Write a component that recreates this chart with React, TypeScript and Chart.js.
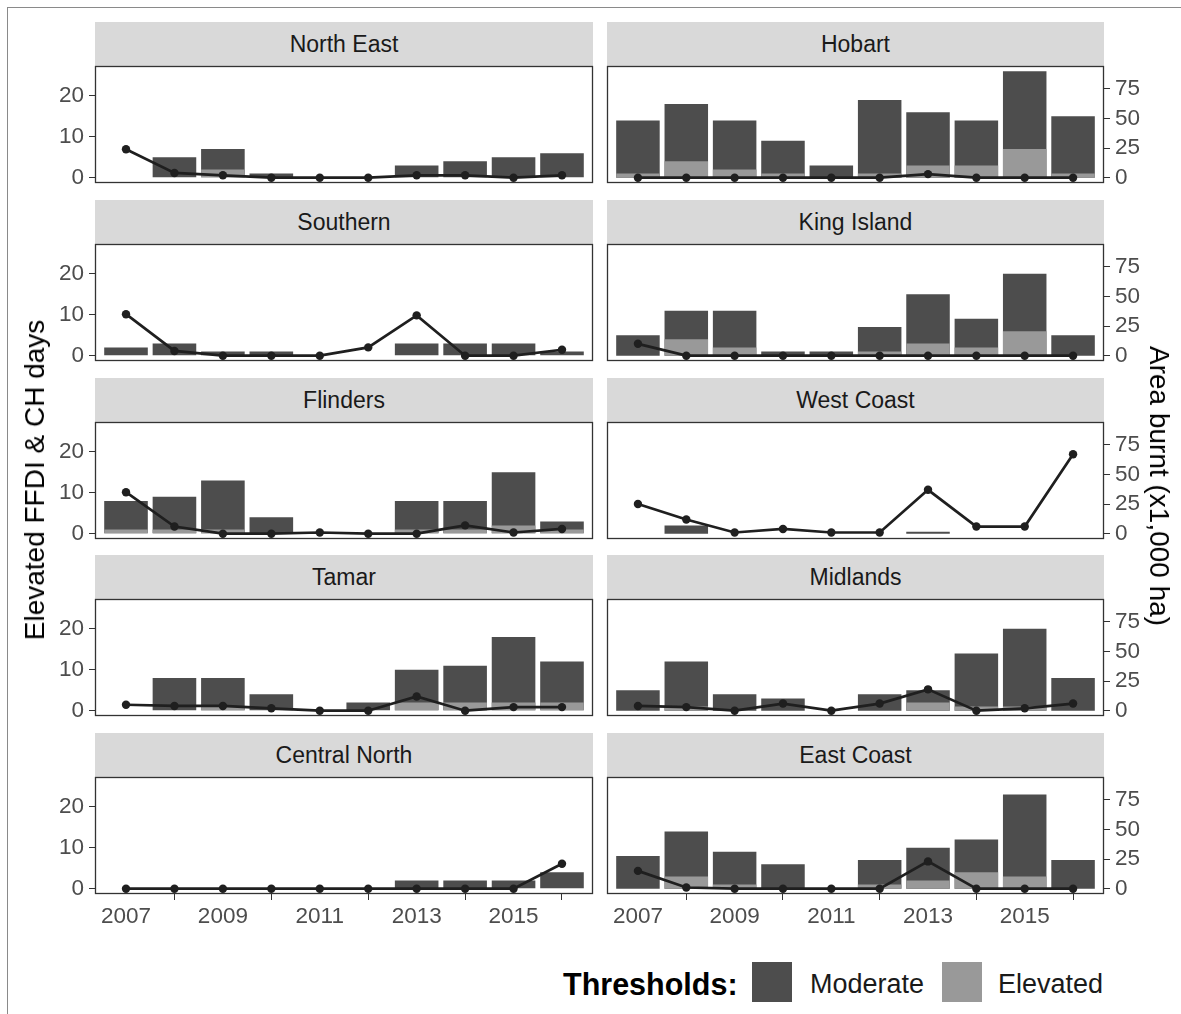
import React, { useEffect, useRef } from "react";
import { Chart, registerables } from "chart.js";
Chart.register(...registerables);

// ---------------- DATA ----------------
const years = [2007, 2008, 2009, 2010, 2011, 2012, 2013, 2014, 2015, 2016];
const xTickYears = [2007, 2009, 2011, 2013, 2015];
const daysTicks = [0, 10, 20];
const areaTicks = [0, 25, 50, 75];
const legendLabels = ["Moderate", "Elevated"];

const northEastModerate = [0, 5, 7, 1, 0, 0, 3, 4, 5, 6];
const northEastElevated = [0, 0, 2, 0, 0, 0, 0, 0, 0, 0];
const northEastArea = [24, 4, 2, 0, 0, 0, 2, 2, 0, 2];

const hobartModerate = [14, 18, 14, 9, 3, 19, 16, 14, 26, 15];
const hobartElevated = [1, 4, 2, 1, 0, 1, 3, 3, 7, 1];
const hobartArea = [0, 0, 0, 0, 0, 0, 3, 0, 0, 0];

const southernModerate = [2, 3, 1, 1, 0, 0, 3, 3, 3, 1];
const southernElevated = [0, 0, 0, 0, 0, 0, 0, 0, 0, 0];
const southernArea = [35, 4, 0, 0, 0, 7, 34, 0, 0, 5];

const kingIslandModerate = [5, 11, 11, 1, 1, 7, 15, 9, 20, 5];
const kingIslandElevated = [0, 4, 2, 0, 0, 1, 3, 2, 6, 0];
const kingIslandArea = [10, 0, 0, 0, 0, 0, 0, 0, 0, 0];

const flindersModerate = [8, 9, 13, 4, 0, 0, 8, 8, 15, 3];
const flindersElevated = [1, 1, 1, 0, 0, 0, 1, 1, 2, 1];
const flindersArea = [35, 6, 0, 0, 1, 0, 0, 7, 1, 4];

const westCoastModerate = [0, 2, 0, 0, 0, 0, 0.5, 0, 0, 0];
const westCoastElevated = [0, 0, 0, 0, 0, 0, 0, 0, 0, 0];
const westCoastArea = [25, 12, 1, 4, 1, 1, 37, 6, 6, 67];

const tamarModerate = [0, 8, 8, 4, 0, 2, 10, 11, 18, 12];
const tamarElevated = [0, 0, 1, 0, 0, 0, 2, 2, 2, 2];
const tamarArea = [5, 4, 4, 2, 0, 0, 12, 0, 3, 3];

const midlandsModerate = [5, 12, 4, 3, 0, 4, 5, 14, 20, 8];
const midlandsElevated = [0, 1, 0, 0, 0, 0, 2, 1, 1, 0];
const midlandsArea = [4, 3, 0, 6, 0, 6, 18, 0, 2, 6];

const centralNorthModerate = [0, 0, 0, 0, 0, 0, 2, 2, 2, 4];
const centralNorthElevated = [0, 0, 0, 0, 0, 0, 0, 0, 0, 0];
const centralNorthArea = [0, 0, 0, 0, 0, 0, 0, 0, 0, 21];

const eastCoastModerate = [8, 14, 9, 6, 0, 7, 10, 12, 23, 7];
const eastCoastElevated = [0, 3, 1, 0, 0, 1, 2, 4, 3, 0];
const eastCoastArea = [15, 1, 0, 0, 0, 0, 23, 0, 0, 0];

const panels = [
  { name: "North East", moderate: northEastModerate, elevated: northEastElevated, area: northEastArea },
  { name: "Hobart", moderate: hobartModerate, elevated: hobartElevated, area: hobartArea },
  { name: "Southern", moderate: southernModerate, elevated: southernElevated, area: southernArea },
  { name: "King Island", moderate: kingIslandModerate, elevated: kingIslandElevated, area: kingIslandArea },
  { name: "Flinders", moderate: flindersModerate, elevated: flindersElevated, area: flindersArea },
  { name: "West Coast", moderate: westCoastModerate, elevated: westCoastElevated, area: westCoastArea },
  { name: "Tamar", moderate: tamarModerate, elevated: tamarElevated, area: tamarArea },
  { name: "Midlands", moderate: midlandsModerate, elevated: midlandsElevated, area: midlandsArea },
  { name: "Central North", moderate: centralNorthModerate, elevated: centralNorthElevated, area: centralNorthArea },
  { name: "East Coast", moderate: eastCoastModerate, elevated: eastCoastElevated, area: eastCoastArea },
];

// ---------------- STYLE / LAYOUT ----------------
const FONT = "'Liberation Sans', Arial, Helvetica, sans-serif";
const MOD_COLOR = "#4d4d4d";
const ELEV_COLOR = "#999999";
const LINE_COLOR = "#1f1f1f";
const TICK_COLOR = "#4d4d4d";
const X_MIN = 2006.36;
const X_MAX = 2016.64;
const Y_MIN = -1.3;
const Y_MAX = 27.3;
const AREA_RATIO = 3.45;

const COL_LEFT = [95, 607];
const COL_RIGHT = [593, 1104];
const BODY_H = 117;
const STRIP_H = 44;
const PAD = 20;
const bodyTop = (row: number) => Math.round(66 + row * 177.75);

const framePlugin = {
  id: "frame",
  afterDraw(chart: any) {
    const { ctx, chartArea } = chart;
    const { left, top, right, bottom } = chartArea;
    ctx.save();
    ctx.strokeStyle = "#333333";
    ctx.lineWidth = 1.3;
    ctx.strokeRect(left + 0.5, top + 0.5, right - left - 1, bottom - top - 1);
    ctx.restore();
  },
};

function Panel({ spec, row, col }: any) {
  const ref = useRef<HTMLCanvasElement>(null);
  const isLeft = col === 0;
  const isBottom = row === 4;
  const canvasLeft = isLeft ? 40 : COL_LEFT[1] - 7;
  const canvasRight = isLeft ? COL_RIGHT[0] + 7 : 1175;
  const width = canvasRight - canvasLeft;
  const top = bodyTop(row) - PAD;
  const height = PAD + BODY_H + (isBottom ? 42 : PAD);

  useEffect(() => {
    const tickFont = { family: FONT, size: 22.5 };
    const chart = new Chart(ref.current as HTMLCanvasElement, {
      type: "bar",
      data: {
        datasets: [
          {
            type: "line",
            data: years.map((x, i) => ({ x, y: spec.area[i] })),
            yAxisID: "y1",
            borderColor: LINE_COLOR,
            backgroundColor: LINE_COLOR,
            borderWidth: 2.7,
            pointRadius: 4.2,
            pointBorderWidth: 0,
            pointBackgroundColor: LINE_COLOR,
            order: 0,
            clip: false,
          } as any,
          {
            type: "bar",
            data: years.map((x, i) => ({ x, y: spec.elevated[i] })),
            yAxisID: "y",
            backgroundColor: ELEV_COLOR,
            grouped: false,
            barPercentage: 0.9,
            categoryPercentage: 1,
            order: 1,
          } as any,
          {
            type: "bar",
            data: years.map((x, i) => ({ x, y: spec.moderate[i] })),
            yAxisID: "y",
            backgroundColor: MOD_COLOR,
            grouped: false,
            barPercentage: 0.9,
            categoryPercentage: 1,
            order: 2,
          } as any,
        ],
      },
      options: {
        animation: false,
        responsive: false,
        maintainAspectRatio: false,
        layout: {
          padding: {
            top: PAD,
            bottom: isBottom ? 0 : PAD,
            left: isLeft ? 0 : 7,
            right: isLeft ? 7 : 0,
          },
        },
        plugins: { legend: { display: false }, tooltip: { enabled: false } },
        scales: {
          x: {
            type: "linear",
            min: X_MIN,
            max: X_MAX,
            offset: false,
            display: isBottom,
            grid: { display: true, drawOnChartArea: false, drawTicks: true, tickLength: 6, color: "#333333" },
            border: { display: false },
            ticks: { font: tickFont, color: TICK_COLOR, padding: 3, maxRotation: 0, callback: (v: any) => String(v) },
            afterBuildTicks: (s: any) => { s.ticks = xTickYears.map((v) => ({ value: v })); },
            afterFit: (s: any) => { if (isBottom) s.height = 42; },
          },
          y: {
            type: "linear",
            position: "left",
            min: Y_MIN,
            max: Y_MAX,
            display: isLeft,
            grid: { display: true, drawOnChartArea: false, drawTicks: true, tickLength: 6, color: "#333333" },
            border: { display: false },
            ticks: { font: tickFont, color: TICK_COLOR, padding: 5, callback: (v: any) => String(v) },
            afterBuildTicks: (s: any) => { s.ticks = daysTicks.map((v) => ({ value: v })); },
            afterFit: (s: any) => { if (isLeft) s.width = COL_LEFT[0] - 40; },
          },
          y1: {
            type: "linear",
            position: "right",
            min: Y_MIN * AREA_RATIO,
            max: Y_MAX * AREA_RATIO,
            display: !isLeft,
            grid: { display: true, drawOnChartArea: false, drawTicks: true, tickLength: 6, color: "#333333" },
            border: { display: false },
            ticks: { font: tickFont, color: TICK_COLOR, padding: 5, callback: (v: any) => String(v) },
            afterBuildTicks: (s: any) => { s.ticks = areaTicks.map((v) => ({ value: v })); },
            afterFit: (s: any) => { if (!isLeft) s.width = 1175 - COL_RIGHT[1]; },
          },
        },
      } as any,
      plugins: [framePlugin],
    });
    return () => chart.destroy();
  }, []);

  return (
    <>
      <div
        style={{
          position: "absolute",
          left: COL_LEFT[col],
          top: bodyTop(row) - STRIP_H,
          width: COL_RIGHT[col] - COL_LEFT[col],
          height: STRIP_H,
          background: "#d9d9d9",
          color: "#1a1a1a",
          fontFamily: FONT,
          fontSize: 23,
          display: "flex",
          alignItems: "center",
          justifyContent: "center",
        }}
      >
        {spec.name}
      </div>
      <canvas
        ref={ref}
        width={width}
        height={height}
        style={{ position: "absolute", left: canvasLeft, top, width, height }}
      />
    </>
  );
}

export default function App() {
  return (
    <div
      style={{
        position: "absolute",
        left: 0,
        top: 0,
        width: 1181,
        height: 1014,
        background: "#ffffff",
        overflow: "hidden",
        fontFamily: FONT,
      }}
    >
      <div
        style={{
          position: "absolute",
          left: 7,
          top: 7,
          width: 1190,
          height: 1020,
          borderLeft: "1px solid #8a8a8a",
          borderTop: "1px solid #8a8a8a",
        }}
      />
      {panels.map((p, i) => (
        <Panel key={p.name} spec={p} row={Math.floor(i / 2)} col={i % 2} />
      ))}
      <div
        style={{
          position: "absolute",
          left: 35,
          top: 480,
          transform: "translate(-50%, -50%) rotate(-90deg)",
          whiteSpace: "nowrap",
          fontSize: 28,
          color: "#000",
        }}
      >
        Elevated FFDI &amp; CH days
      </div>
      <div
        style={{
          position: "absolute",
          left: 1159,
          top: 486,
          transform: "translate(-50%, -50%) rotate(90deg)",
          whiteSpace: "nowrap",
          fontSize: 28,
          color: "#000",
        }}
      >
        Area burnt (x1,000 ha)
      </div>
      <div
        style={{
          position: "absolute",
          left: 563,
          top: 984,
          transform: "translateY(-50%)",
          fontSize: 30.5,
          fontWeight: "bold",
          color: "#000",
          whiteSpace: "nowrap",
        }}
      >
        Thresholds:
      </div>
      {[MOD_COLOR, ELEV_COLOR].map((c, i) => (
        <React.Fragment key={c}>
          <div
            style={{
              position: "absolute",
              left: i === 0 ? 752 : 942,
              top: 962,
              width: 40,
              height: 40,
              background: c,
            }}
          />
          <div
            style={{
              position: "absolute",
              left: i === 0 ? 810 : 998,
              top: 984,
              transform: "translateY(-50%)",
              fontSize: 27,
              color: "#1a1a1a",
              whiteSpace: "nowrap",
            }}
          >
            {legendLabels[i]}
          </div>
        </React.Fragment>
      ))}
    </div>
  );
}
